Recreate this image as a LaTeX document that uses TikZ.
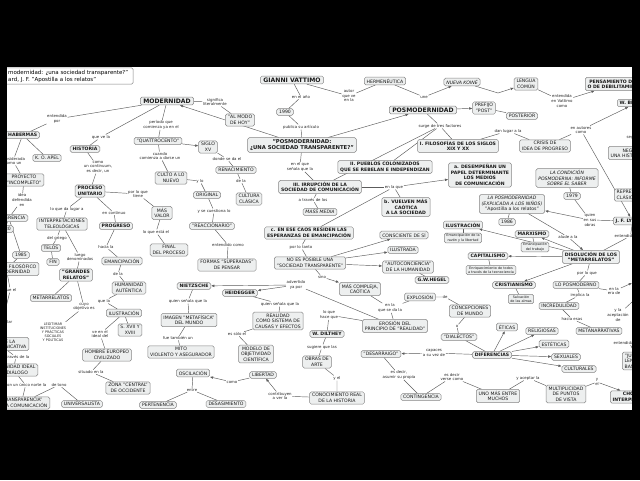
\documentclass[tikz,border=0pt]{standalone}
\usepackage{fontspec}
\setmainfont{DejaVu Sans}
\usetikzlibrary{arrows.meta,backgrounds}

\definecolor{cajafondo}{HTML}{EDEFEF}
\definecolor{cajaborde}{HTML}{858585}
\definecolor{enlace}{HTML}{5C5C5C}

\newcommand{\fcaja}{\fontsize{4.6}{5.6}\selectfont}
\newcommand{\fetiq}{\fontsize{3.9}{4.6}\selectfont}
\newcommand{\fnota}{\fontsize{3.4}{4.1}\selectfont}
\newcommand{\fgrande}{\fontsize{6.1}{7}\selectfont\bfseries}

\begin{document}
\begin{tikzpicture}[
  x=1pt, y=-1pt,
  caja/.style={draw=cajaborde, fill=cajafondo, rounded corners=1.6pt,
    line width=0.5pt, inner xsep=2.4pt, inner ysep=1.6pt,
    align=center, font=\fcaja, text=black!90},
  cajan/.style={caja, font=\fcaja\bfseries},
  cajag/.style={caja, font=\fgrande, inner xsep=3pt},
  cajat/.style={caja, font=\fontsize{5.3}{6.4}\selectfont\bfseries},
  nota/.style={caja, font=\fnota, inner xsep=2pt, inner ysep=1.2pt},
  etiq/.style={inner sep=0.5pt, align=center, font=\fetiq, text=black!85},
  titulo/.style={draw=cajaborde, fill=white, rounded corners=1.6pt,
    line width=0.5pt, inner xsep=5pt, inner ysep=2pt, align=left,
    font=\fontsize{5.5}{7}\selectfont},
  enl/.style={draw=enlace, line width=0.45pt},
  flecha/.style={enl, -{Latex[length=3.2pt,width=2.6pt]}}
]
  \useasboundingbox (0,0) rectangle (640,480);

  % Referencia bibliográfica
  \node[titulo, anchor=west] (titulo) at (3,76)
    {modernidad: ¿una sociedad transparente?"\\ard, J. F. "Apostilla a los relatos"};

  % Modernidad
  \node[cajag] (mod) at (167,101) {MODERNIDAD};
  \node[etiq] (signif) at (215,102) {significa\\literalmente};
  \node[caja] (almodo) at (240,120) {"AL MODO\\DE HOY"};
  \node[etiq] (periodo) at (161,125) {período que\\comienza ya en el};
  \node[caja] (quattro) at (158,141) {"QUATTROCENTO"};
  \node[caja] (siglo) at (208,147) {SIGLO\\XV};
  \node[etiq] (donde) at (227,159) {donde se da el};
  \node[caja] (renac) at (236,170) {RENACIMIENTO};
  \node[etiq] (cuando) at (160,156) {cuando\\comienza a darse un};
  \node[caja] (culto) at (171,178) {CULTO A LO\\NUEVO};
  \node[etiq] (ylo) at (200,181) {y lo};
  \node[etiq] (dela1) at (241,181) {de la};
  \node[caja] (original) at (207,195) {ORIGINAL};
  \node[caja] (cultura) at (249,199) {CULTURA\\CLÁSICA};
  \node[etiq] (secuest) at (214,211) {y se cuestiona lo};
  \node[caja] (reacc) at (212,226) {"REACCIONARIO"};
  \node[etiq] (entcomo) at (228,245) {entendido como};
  \node[caja] (formas) at (227,265) {FORMAS "SUPERADAS"\\DE PENSAR};

  % Habermas e historia
  \node[etiq] (entpor) at (57,119) {entendida\\por};
  \node[cajan, anchor=west] (haber) at (5.5,135) {HABERMAS};
  \node[caja] (apel) at (47,158) {K. O. APEL};
  \node[etiq] (consid) at (13,161) {considerada\\como un};
  \node[caja] (proyecto) at (24,180) {PROYECTO\\"INCOMPLETO"};
  \node[etiq] (idea) at (22,200) {idea\\defendida\\en};
  \node[caja, anchor=east] (confer) at (28,218) {CONFERENCIA};
  \node[caja, anchor=east] (anio80) at (13.5,229) {1980};
  \node[caja] (anio85) at (21,255) {1985};
  \node[caja, anchor=east] (discurso) at (39,269) {EL DISCURSO FILOSÓFICO\\DE LA MODERNIDAD};
  \node[etiq, anchor=east] (queel) at (17,290) {que el};
  \node[etiq, anchor=east] (desarrollar) at (13,324) {desarrollar\\su};
  \node[caja, anchor=east] (accion) at (29,344) {TEORÍA DE LA\\ACCIÓN COMUNICATIVA};
  \node[etiq, anchor=east] (atraves2) at (30,357) {a través de la};
  \node[caja, anchor=east] (comunid) at (38,370) {COMUNIDAD IDEAL\\DE DIÁLOGO};
  \node[etiq, anchor=east] (norte) at (47,385) {con un único norte la};
  \node[caja, anchor=east] (transp) at (50,403) {"TRANSPARENCIA"\\EN LA COMUNICACIÓN};
  \node[etiq] (detono) at (59,385) {de tono};
  \node[caja] (univ) at (82,404) {UNIVERSALISTA};

  \node[etiq] (queve) at (101,137) {que ve la};
  \node[cajan] (historia) at (85,149) {HISTORIA};
  \node[etiq] (continuum) at (98,167) {como\\un continuum,\\es decir, un};
  \node[cajan] (proceso) at (90,191) {PROCESO\\UNITARIO};
  \node[etiq] (porloque) at (138,194) {por lo que\\tiene};
  \node[caja] (masvalor) at (162,213) {MÁS\\VALOR};
  \node[etiq] (loqueesta) at (156,232) {lo que está el};
  \node[caja] (final) at (169,250) {FINAL\\DEL PROCESO};
  \node[etiq] (dalugar) at (67,209) {lo que da lugar a};
  \node[etiq] (encont) at (114,213) {en continuo};
  \node[caja] (interp) at (62,224) {INTERPRETACIONES\\TELEOLÓGICAS};
  \node[cajan] (progreso) at (116,226) {PROGRESO};
  \node[etiq] (delgriego) at (57,238) {del griego};
  \node[caja] (telos) at (51,248) {TELOS};
  \node[caja] (fin) at (53,262) {FIN};
  \node[etiq] (luego) at (80,257) {luego\\denominados};
  \node[etiq] (hacia) at (106,247) {hacia la};
  \node[caja] (emancip) at (122,261) {EMANCIPACIÓN};
  \node[cajan] (grandes) at (76,275) {"GRANDES\\RELATOS"};
  \node[etiq] (dela2) at (118,274) {de la};
  \node[caja] (humanidad) at (129,288) {HUMANIDAD\\AUTÉNTICA};
  \node[caja] (metarrel) at (51,298) {METARRELATOS};
  \node[etiq] (cuyo) at (84,307) {cuyo\\objetivo es};
  \node[etiq, font=\fnota] (legit) at (53,332)
    {LEGITIMAR\\INSTITUCIONES\\Y PRÁCTICAS\\SOCIALES\\Y POLÍTICAS};
  \node[etiq] (quela) at (104,301) {que la};
  \node[caja] (ilus1) at (124,313) {ILUSTRACIÓN};
  \node[caja] (sxvii) at (130,330) {S. XVII Y\\XVIII};
  \node[etiq] (veen) at (100,334) {ve en el\\ideal del};
  \node[caja] (hombre) at (107,355) {HOMBRE EUROPEO\\CIVILIZADO};
  \node[etiq] (situado) at (91,372) {situado en la};
  \node[caja] (zona) at (128,388) {ZONA "CENTRAL"\\DE OCCIDENTE};

  % Vattimo
  \node[cajag] (gianni) at (292,80) {GIANNI VATTIMO};
  \node[etiq] (enano) at (301,97) {en el año};
  \node[caja] (anio90) at (285,112) {1990};
  \node[etiq] (publica) at (301,127) {publica su artículo};
  \node[cajat] (posq) at (302,145) {"POSMODERNIDAD:\\¿UNA SOCIEDAD TRANSPARENTE?"};
  \node[etiq] (autor) at (349,96) {autor\\que ve\\en la};
  \node[caja] (herm) at (385,81) {HERMENÉUTICA};
  \node[etiq] (une) at (424,97) {une};
  \node[caja, font=\fcaja\itshape] (koine) at (462,82) {NUEVA KOINÉ};
  \node[caja] (lengua) at (526,84) {LENGUA\\COMÚN};
  \node[etiq] (entvat) at (562,101) {entendida\\en Vattimo\\como};
  \node[cajan, anchor=west] (debil) at (585,84) {PENSAMIENTO DÉBIL\\O DE DEBILITAMIENTO};

  % Posmodernidad y sus factores
  \node[cajag] (posm) at (423,110) {POSMODERNIDAD};
  \node[caja] (prefijo) at (484,108) {PREFIJO\\"POST"};
  \node[caja] (posterior) at (522,116) {POSTERIOR};
  \node[etiq] (surge) at (440,126) {surge de tres factores};
  \node[cajan] (filo) at (458,146) {I. FILOSOFÍAS DE LOS SIGLOS\\XIX Y XX};
  \node[etiq] (danlugar) at (508,131) {dan lugar a la};
  \node[caja] (crisis) at (545,146) {CRISIS DE\\IDEA DE PROGRESO};
  \node[etiq] (enaut) at (581,130) {en autores\\como};
  \node[cajan, anchor=west] (wb) at (617,103) {W. BENJAMIN};
  \node[etiq, anchor=west] (segun) at (626,137) {según};
  \node[caja, anchor=west] (negac) at (608,153) {NEGACIÓN DE\\UNA HISTORIA UNITARIA};
  \node[cajan] (pueblos) at (385,167) {II. PUEBLOS COLONIZADOS\\QUE SE REBELAN E INDEPENDIZAN};
  \node[etiq] (enelque) at (300,167) {en el que\\señala que la};
  \node[cajan] (irrup) at (320,187) {III. IRRUPCIÓN DE LA\\SOCIEDAD DE COMUNICACIÓN};
  \node[etiq] (enlaque) at (394,187) {en la que};
  \node[cajan] (desemp) at (480,175) {a. DESEMPEÑAN UN\\PAPEL DETERMINANTE\\LOS MEDIOS\\DE COMUNICACIÓN};
  \node[cajan] (vuelven) at (406,207) {b. VUELVEN MÁS\\CAÓTICA\\A LA SOCIEDAD};
  \node[etiq] (atraves) at (313,200) {a través de los};
  \node[caja, font=\fcaja\itshape] (mass) at (320,212) {MASS MEDIA};
  \node[cajan] (caos) at (309,233) {c. EN ESE CAOS RESIDEN LAS\\ESPERANZAS DE EMANCIPACIÓN};
  \node[etiq] (portanto) at (301,247) {por lo tanto};
  \node[caja] (noes) at (310,263) {NO ES POSIBLE UNA\\"SOCIEDAD TRANSPARENTE"};
  \node[caja] (conscien) at (404,235) {CONSCIENTE DE SÍ};
  \node[caja] (ilustrada) at (403,250) {ILUSTRADA};
  \node[caja] (autoc) at (408,267) {"AUTOCONCIENCIA"\\DE LA HUMANIDAD};
  \node[cajan] (hegel) at (432,280) {G.W.HEGEL};
  \node[etiq] (sino) at (322,277) {sino};
  \node[caja] (mascomp) at (360,289) {MÁS COMPLEJA,\\CAÓTICA};

  % Nietzsche, Heidegger, Dilthey
  \node[cajan] (nietz) at (194,286) {NIETZSCHE};
  \node[cajan] (heid) at (240,293) {HEIDEGGER};
  \node[etiq] (advert) at (296,285) {advertido\\ya por};
  \node[etiq] (quien1) at (188,301) {quien señala que la};
  \node[caja] (imagen) at (189,320) {IMAGEN "METAFÍSICA"\\DEL MUNDO};
  \node[etiq] (fue) at (178,338) {fue también un};
  \node[caja] (mito) at (181,352) {MITO\\VIOLENTO Y ASEGURADOR};
  \node[etiq] (quien2) at (280,304) {quien señala que la};
  \node[caja] (realidad) at (278,321) {REALIDAD\\COMO SISTEMA DE\\CAUSAS Y EFECTOS};
  \node[etiq] (essolo) at (237,334) {es sólo el};
  \node[caja] (modelo) at (256,354) {MODELO DE\\OBJETIVIDAD\\CIENTÍFICA};
  \node[caja] (oscil) at (193,373) {OSCILACIÓN};
  \node[etiq] (como) at (232,382) {como};
  \node[caja] (libertad) at (263,375) {LIBERTAD};
  \node[etiq] (entre) at (192,390) {entre};
  \node[caja] (perten) at (158,405) {PERTENENCIA};
  \node[caja] (desasim) at (226,404) {DESASIMIENTO};
  \node[etiq] (contrib) at (280,396) {contribuyen\\a ver la};
  \node[etiq] (haceque) at (329,315) {lo que\\hace que};
  \node[cajan] (dilthey) at (327,334) {W. DILTHEY};
  \node[etiq] (sugiere) at (322,347) {sugiere que las};
  \node[caja] (obras) at (317,362) {OBRAS DE\\ARTE};
  \node[etiq] (yel) at (337,378) {y el};
  \node[caja] (conoc) at (337,398) {CONOCIMIENTO REAL\\DE LA HISTORIA};

  % Erosión de la realidad y diferencias
  \node[etiq] (enlaqueseda) at (390,308) {en la\\que se da la};
  \node[caja] (erosion) at (395,326) {EROSIÓN DEL\\PRINCIPIO DE "REALIDAD"};
  \node[caja] (explos) at (420,297) {EXPLOSIÓN};
  \node[etiq] (de) at (445,297) {de};
  \node[caja] (concep) at (470,311) {CONCEPCIONES\\DE MUNDO};
  \node[etiq] (o) at (457,326) {o};
  \node[caja] (dialec) at (459,337) {"DIALECTOS"};
  \node[etiq] (capaces) at (434,353) {capaces\\a su vez de};
  \node[caja] (desarr) at (381,354) {"DESARRAIGO"};
  \node[etiq] (esdecir) at (399,375) {es decir,\\asumir su propia};
  \node[caja] (conting) at (421,397) {CONTINGENCIA};
  \node[etiq] (esdecir2) at (452,377) {es decir\\verse como};
  \node[caja] (uno) at (498,396) {UNO MÁS ENTRE\\MUCHOS};
  \node[etiq] (yacept) at (528,378) {y aceptar la};
  \node[caja] (multip) at (566,394) {MULTIPLICIDAD\\DE PUNTOS\\DE VISTA};
  \node[etiq] (yel2) at (597,382) {y\\el};
  \node[cajan, anchor=west] (choque) at (610,397) {CHOQUE DE\\INTERPRETACIONES};
  \node[cajan] (difer) at (492,355) {DIFERENCIAS};
  \node[caja] (eticas) at (507,327) {ÉTICAS};
  \node[caja] (relig) at (542,331) {RELIGIOSAS};
  \node[caja] (estet) at (554,344) {ESTÉTICAS};
  \node[caja] (sexua) at (566,357) {SEXUALES};
  \node[caja] (cultu) at (579,369) {CULTURALES};

  % Lyotard
  \node[caja, font=\fcaja\itshape] (lacond) at (567,178) {LA CONDICIÓN\\POSMODERNA: INFORME\\SOBRE EL SABER};
  \node[caja] (anio79) at (572,196) {1979};
  \node[caja, anchor=west, align=left] (repre) at (614,195) {REPRESENTANTE\\CLÁSICO};
  \node[etiq] (quien3) at (590,220) {quien\\en sus\\obras};
  \node[cajan, anchor=west] (jf) at (613,221) {J. F. LYOTARD};
  \node[etiq, anchor=west] (entend2) at (614,236) {entendido como};
  \node[caja] (lapos) at (512,204)
    {\textit{LA POSMODERNIDAD}\\\textit{(EXPLICADA A LOS NIÑOS)}\\"Apostilla a los relatos"};
  \node[caja] (anio86) at (507,222) {1986};
  \node[cajan] (ilus2) at (463,225) {ILUSTRACIÓN};
  \node[nota] (emraz) at (463,238) {Emancipación de la\\razón y la libertad};
  \node[cajan] (marx) at (532,234) {MARXISMO};
  \node[nota] (emtrab) at (535,247) {Emancipación\\del trabajo};
  \node[etiq] (alude) at (568,237) {alude a la};
  \node[cajan] (disol) at (591,257) {DISOLUCIÓN DE LOS\\"METARRELATOS"};
  \node[cajan] (capit) at (488,256) {CAPITALISMO};
  \node[nota] (enriq) at (491,270) {Enriquecimiento de todos\\a través de la tecnociencia};
  \node[cajan] (crist) at (514,285) {CRISTIANISMO};
  \node[nota] (salv) at (521,299) {Salvación\\de las almas};
  \node[etiq] (porlq) at (587,273) {por lo que};
  \node[caja] (loposm) at (576,285) {LO POSMODERNO};
  \node[etiq] (enera) at (614,291) {en la\\era de};
  \node[etiq] (implica) at (580,295) {implica la};
  \node[caja] (incred) at (559,306) {INCREDULIDAD};
  \node[etiq] (haciaesas) at (572,319) {hacia esas};
  \node[caja] (metan) at (599,331) {METANARRATIVAS};
  \node[etiq] (yacep) at (618,315) {y la\\aceptación\\de};
  \node[etiq, anchor=west] (entend3) at (613,343) {entendida como};
  \node[caja, anchor=west, align=left] (juegos) at (622,361) {"JUEGOS DE\\LENGUAJE"\\BASADOS};

  \coordinate (codo) at (498,93);
  \coordinate (haciaera) at (632,283);
  \coordinate (borde) at (632,302);

  \begin{pgfonlayer}{background}
    \fill[white] (7,67) rectangle (632,410);

    % Enlaces superiores
    \draw[enl] (gianni) -- (autor) -- (herm);
    \draw[flecha] (herm) -- (une) -- (koine);
    \draw[flecha] (koine) -- (codo) -- (lengua);
    \draw[flecha] (lengua) -- (entvat) -- (debil);
    \draw[enl] (gianni) -- (enano) -- (anio90) -- (publica) -- (posq);
    \draw[flecha] (posq) -- (mod);
    \draw[flecha] (posq) -- (posm);
    \draw[flecha] (posm) -- (prefijo);
    \draw[enl] (prefijo) -- (posterior);
    \draw[enl] (posm) -- (surge) -- (filo);
    \draw[enl] (surge) -- (pueblos);
    \draw[enl] (surge) -- (irrup);
    \draw[enl] (filo) -- (danlugar) -- (crisis);
    \draw[enl] (crisis) -- (enaut);
    \draw[flecha] (enaut) -- (wb);
    \draw[flecha] (enaut) -- (jf);
    \draw[enl] (wb) -- (segun) -- (negac);

    % Enlaces de la modernidad
    \draw[enl] (mod) -- (signif) -- (almodo);
    \draw[enl] (mod) -- (entpor) -- (haber);
    \draw[enl] (mod) -- (queve) -- (historia);
    \draw[enl] (mod) -- (periodo) -- (quattro);
    \draw[flecha] (quattro) -- (siglo);
    \draw[enl] (quattro) -- (cuando) -- (culto);
    \draw[enl] (siglo) -- (donde) -- (renac) -- (dela1) -- (cultura);
    \draw[enl] (culto) -- (ylo) -- (original) -- (secuest) -- (reacc) -- (entcomo) -- (formas);
    \draw[enl] (proceso) -- (porloque) -- (masvalor) -- (loqueesta) -- (final);
    \draw[enl] (historia) -- (continuum) -- (proceso);
    \draw[enl] (proceso) -- (dalugar) -- (interp);
    \draw[enl] (proceso) -- (encont) -- (progreso) -- (hacia) -- (emancip) -- (dela2) -- (humanidad);
    \draw[enl] (humanidad) -- (quela) -- (ilus1);
    \draw[enl] (interp) -- (delgriego) -- (telos) -- (fin);
    \draw[enl] (interp) -- (luego) -- (grandes) -- (metarrel);
    \draw[enl] (grandes) -- (cuyo) -- (legit);
    \draw[enl] (ilus1) -- (sxvii);
    \draw[enl] (ilus1) -- (veen) -- (hombre) -- (situado) -- (zona);
    \draw[enl] (haber) -- (apel);
    \draw[enl] (haber) -- (consid) -- (proyecto) -- (idea) -- (confer) -- (anio80);
    \draw[enl] (confer) -- (anio85) -- (discurso);
    \draw[enl] (discurso) -- (queel) -- (desarrollar) -- (accion) -- (atraves2)
      -- (comunid) -- (norte) -- (transp) -- (detono) -- (univ);

    % Enlaces centrales
    \draw[enl] (posq) -- (enelque) -- (irrup);
    \draw[enl] (irrup) -- (atraves) -- (mass);
    \draw[enl] (irrup) -- (enlaque);
    \draw[flecha] (enlaque) -- (desemp);
    \draw[enl] (enlaque) -- (vuelven);
    \draw[enl] (enlaque) -- (caos);
    \draw[enl] (caos) -- (portanto) -- (noes);
    \draw[flecha] (noes) -- (conscien);
    \draw[flecha] (noes) -- (ilustrada);
    \draw[flecha] (noes) -- (autoc);
    \draw[enl] (autoc) -- (hegel);
    \draw[flecha] (noes) -- (sino) -- (mascomp);
    \draw[enl] (mascomp) -- (enlaqueseda) -- (erosion);
    \draw[enl] (enlaqueseda) -- (explos);
    \draw[enl] (explos) -- (de) -- (concep) -- (o) -- (dialec) -- (difer);
    \draw[flecha] (difer) -- (capaces) -- (desarr);
    \foreach \d in {eticas,relig,estet,sexua,cultu}
      \draw[flecha] (difer) -- (\d);
    \draw[enl] (desarr) -- (esdecir) -- (conting) -- (esdecir2) -- (uno) -- (yacept) -- (multip);
    \draw[flecha] (multip) -- (yel2) -- (choque);

    % Enlaces inferiores
    \draw[enl] (erosion) -- (advert);
    \draw[flecha] (advert) -- (nietz);
    \draw[flecha] (advert) -- (heid);
    \draw[enl] (nietz) -- (quien1) -- (imagen) -- (fue) -- (mito);
    \draw[enl] (heid) -- (quien2) -- (realidad) -- (essolo) -- (modelo);
    \draw[enl] (erosion) -- (haceque) -- (dilthey) -- (sugiere) -- (obras) -- (yel) -- (conoc);
    \draw[flecha] (conoc) -- (contrib) -- (libertad);
    \draw[flecha] (libertad) -- (como) -- (oscil);
    \draw[enl] (oscil) -- (entre) -- (perten);
    \draw[enl] (entre) -- (desasim);

    % Enlaces de Lyotard
    \draw[enl] (jf) -- (quien3);
    \draw[flecha] (quien3) -- (lapos);
    \draw[enl] (quien3) -- (anio79) -- (lacond);
    \draw[enl] (lapos) -- (anio86);
    \draw[flecha] (lapos) -- (alude) -- (disol);
    \foreach \d in {ilus2,marx,capit,crist}
      \draw[flecha] (disol) -- (\d);
    \draw[enl] (ilus2) -- (emraz);
    \draw[enl] (marx) -- (emtrab);
    \draw[enl] (capit) -- (enriq);
    \draw[enl] (crist) -- (salv);
    \draw[enl] (jf) -- (entend2) -- (disol);
    \draw[enl] (disol) -- (porlq) -- (loposm);
    \draw[flecha] (loposm) -- (enera) -- (haciaera);
    \draw[enl] (loposm) -- (implica) -- (incred) -- (haciaesas) -- (metan);
    \draw[enl] (borde) -- (yacep);
    \draw[enl] (entend3) -- (juegos);
  \end{pgfonlayer}

  % Marco negro
  \fill[black] (0,0) rectangle (640,67);
  \fill[black] (0,410) rectangle (640,480);
  \fill[black] (0,67) rectangle (7,410);
  \fill[black] (632,67) rectangle (640,410);
\end{tikzpicture}
\end{document}
